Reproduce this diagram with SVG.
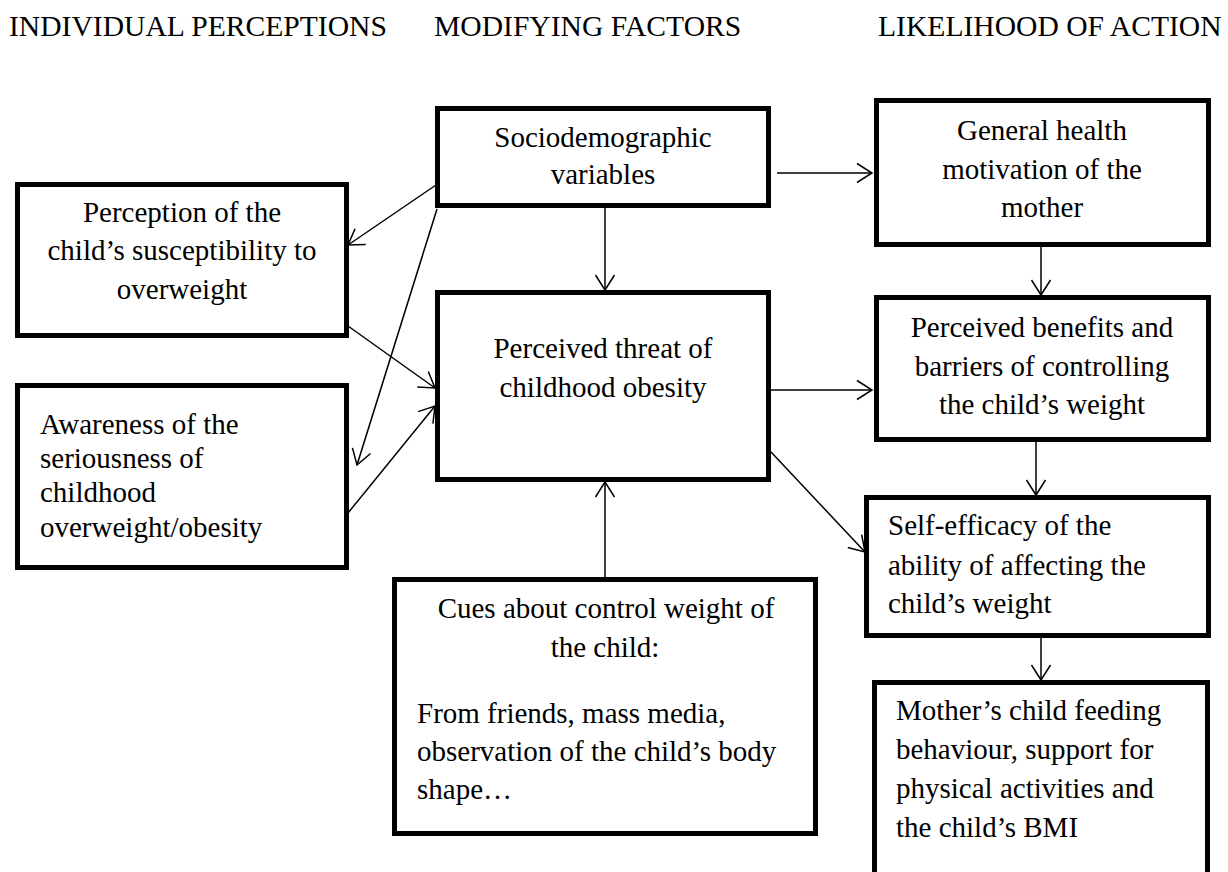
<svg xmlns="http://www.w3.org/2000/svg" width="1228" height="872" viewBox="0 0 1228 872">
<style>
text{font-family:"Liberation Serif","Times New Roman",serif;font-size:29px;fill:#000}
.h{font-size:29.6px}
.c{text-anchor:middle}
.box{fill:#fff;stroke:#000;stroke-width:5}
.con line{stroke:#000;stroke-width:1.5;fill:none;marker-end:url(#arr)}
</style>
<defs>
<marker id="arr" markerUnits="userSpaceOnUse" markerWidth="20" markerHeight="24" refX="15" refY="10" orient="auto" overflow="visible">
<path d="M0,0.5 L15,10 L0,19.5" fill="none" stroke="#000" stroke-width="1.5"/>
</marker>
</defs>
<rect x="0" y="0" width="1228" height="872" fill="#fff"/>
<g id="headers">
<text class="h" x="9" y="36">INDIVIDUAL PERCEPTIONS</text>
<text class="h" x="434" y="36">MODIFYING FACTORS</text>
<text class="h" x="878" y="36">LIKELIHOOD OF ACTION</text>
</g>
<g id="perception">
<rect class="box" x="17.5" y="184.5" width="329" height="151"/>
<text class="c" x="182" y="222">Perception of the</text>
<text class="c" x="182" y="260">child’s susceptibility to</text>
<text class="c" x="182" y="299">overweight</text>
</g>
<g id="awareness">
<rect class="box" x="17.5" y="385.5" width="329" height="182"/>
<text x="40" y="434">Awareness of the</text>
<text x="40" y="468">seriousness of</text>
<text x="40" y="502">childhood</text>
<text x="40" y="537">overweight/obesity</text>
</g>
<g id="socio">
<rect class="box" x="437.5" y="108.5" width="331" height="97"/>
<text class="c" x="603" y="147">Sociodemographic</text>
<text class="c" x="603" y="184">variables</text>
</g>
<g id="threat">
<rect class="box" x="437.5" y="292.5" width="331" height="187"/>
<text class="c" x="603" y="358">Perceived threat of</text>
<text class="c" x="603" y="397">childhood obesity</text>
</g>
<g id="cues">
<rect class="box" x="394.5" y="579.5" width="421" height="254"/>
<text class="c" x="606" y="618">Cues about control weight of</text>
<text class="c" x="605" y="657">the child:</text>
<text x="417" y="723">From friends, mass media,</text>
<text x="417" y="761">observation of the child’s body</text>
<text x="417" y="799">shape…</text>
</g>
<g id="general">
<rect class="box" x="876.5" y="100.5" width="332" height="144"/>
<text class="c" x="1042" y="140">General health</text>
<text class="c" x="1042" y="179">motivation of the</text>
<text class="c" x="1042" y="217">mother</text>
</g>
<g id="benefits">
<rect class="box" x="876.5" y="297.5" width="332" height="142"/>
<text class="c" x="1042" y="337">Perceived benefits and</text>
<text class="c" x="1042" y="376">barriers of controlling</text>
<text class="c" x="1042" y="414">the child’s weight</text>
</g>
<g id="selfefficacy">
<rect class="box" x="866.5" y="497.5" width="342" height="138"/>
<text x="888" y="535">Self-efficacy of the</text>
<text x="888" y="575">ability of affecting the</text>
<text x="888" y="613">child’s weight</text>
</g>
<g id="mother">
<rect class="box" x="874.5" y="682.5" width="333" height="200"/>
<text x="896" y="720">Mother’s child feeding</text>
<text x="896" y="759">behaviour, support for</text>
<text x="896" y="798">physical activities and</text>
<text x="896" y="837">the child’s BMI</text>
</g>
<g id="connectors" class="con">
<line x1="436" y1="185" x2="348" y2="245"/>
<line x1="437" y1="209" x2="357" y2="465"/>
<line x1="605" y1="208" x2="605" y2="290"/>
<line x1="777" y1="173" x2="872" y2="173"/>
<line x1="348" y1="326" x2="435" y2="388"/>
<line x1="348" y1="513" x2="435" y2="406"/>
<line x1="771" y1="390" x2="872" y2="390"/>
<line x1="771" y1="452" x2="865" y2="552"/>
<line x1="1041" y1="247" x2="1041" y2="295"/>
<line x1="1036" y1="442" x2="1036" y2="495"/>
<line x1="1041" y1="638" x2="1041" y2="680"/>
<line x1="605" y1="577" x2="605" y2="482"/>
</g>
</svg>
